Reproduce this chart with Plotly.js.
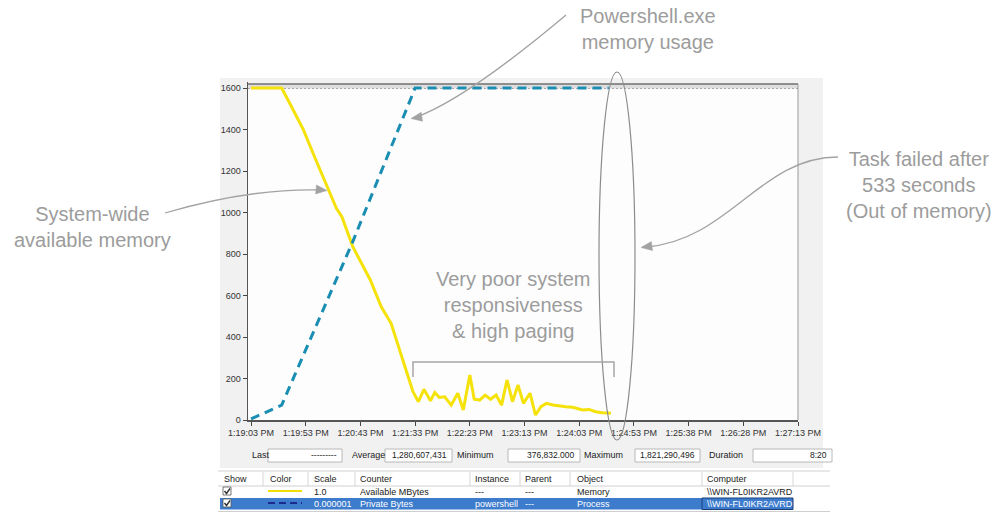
<!DOCTYPE html>
<html><head><meta charset="utf-8">
<script src="https://cdn.plot.ly/plotly-3.0.1.min.js"></script>
<style>html,body{margin:0;padding:0;background:#fff}#chart{width:1001px;height:514px}</style>
</head><body><div id="chart"></div>
<script>
// ---- data ----
const tickSeconds = [0, 50, 100, 150, 200, 250, 300, 350, 400, 450, 500];
const tickLabels = ['1:19:03 PM','1:19:53 PM','1:20:43 PM','1:21:33 PM','1:22:23 PM','1:23:13 PM','1:24:03 PM','1:24:53 PM','1:25:38 PM','1:26:28 PM','1:27:13 PM'];
const yTicks = [0, 200, 400, 600, 800, 1000, 1200, 1400, 1600];

const availSeconds = [0, 28, 37, 48, 58, 66, 72, 78, 83, 93, 109, 119, 128, 137, 142, 148, 153, 158, 164, 168, 172, 177, 183, 189, 194, 200, 204, 209, 214, 219, 224, 229, 234, 239, 244, 249, 255, 260, 265, 270, 276, 282, 288, 294, 303, 309, 315, 321, 329];
const availMB = [1600, 1600, 1510, 1397, 1269, 1172, 1092, 1020, 980, 835, 675, 546, 466, 321, 241, 136, 88, 148, 93, 132, 109, 112, 72, 129, 48, 217, 100, 96, 120, 100, 120, 72, 193, 88, 169, 80, 129, 24, 64, 80, 72, 67, 64, 61, 48, 51, 40, 35, 32];

const privSeconds = [0, 28, 93, 150, 327];
const privMB = [5, 72, 860, 1600, 1600];

const statLabels = ['Last', 'Average', 'Minimum', 'Maximum', 'Duration'];
const statValues = ['---------', '1,280,607,431', '376,832.000', '1,821,290,496', '8:20'];

const tableHeaders = ['Show', 'Color', 'Scale', 'Counter', 'Instance', 'Parent', 'Object', 'Computer'];
const row1 = ['1.0', 'Available MBytes', '---', '---', 'Memory', '\\\\WIN-FL0IKR2AVRD'];
const row2 = ['0.000001', 'Private Bytes', 'powershell', '---', 'Process', '\\\\WIN-FL0IKR2AVRD'];

const noteMemory = 'System-wide<br>available memory';
const notePowershell = 'Powershell.exe<br>memory usage';
const noteFailed = 'Task failed after<br>533 seconds<br>(Out of memory)';
const notePaging = 'Very poor system<br>responsiveness<br>&amp; high paging';

// ---- geometry helpers (pixel -> paper) ----
const L = 248, R = 798, T = 82, B = 420;
const px = x => (x - L) / (R - L);
const py = y => (B - y) / (B - T);
const P = (x, y) => px(x) + ',' + py(y);

const shapes = [];
const annotations = [];

function rect(x0, y0, x1, y1, fill, line, layer, lw) {
  shapes.push({type: 'rect', xref: 'paper', yref: 'paper', x0: px(x0), x1: px(x1), y0: py(y1), y1: py(y0),
    fillcolor: fill, line: {color: line || 'rgba(0,0,0,0)', width: lw || (line ? 1 : 0)}, layer: layer || 'below'});
}
function line(x0, y0, x1, y1, color, w, layer, dash) {
  shapes.push({type: 'line', xref: 'paper', yref: 'paper', x0: px(x0), x1: px(x1), y0: py(y0), y1: py(y1),
    line: {color: color, width: w, dash: dash || 'solid'}, layer: layer || 'below'});
}
function path(d, color, w, fill, layer) {
  shapes.push({type: 'path', xref: 'paper', yref: 'paper', path: d, line: {color: color, width: w},
    fillcolor: fill || 'rgba(0,0,0,0)', layer: layer || 'above'});
}
function arrowHead(tx, ty, fx, fy, color) {
  const dx = tx - fx, dy = ty - fy, len = Math.hypot(dx, dy);
  const ux = dx / len, uy = dy / len, nx = -uy, ny = ux;
  const bx = tx - 11 * ux, by = ty - 11 * uy;
  path('M' + P(tx, ty) + ' L' + P(bx + 4.5 * nx, by + 4.5 * ny) + ' L' + P(bx - 4.5 * nx, by - 4.5 * ny) + ' Z', color, 0.5, color);
}
function text(x, y, t, opts) {
  opts = opts || {};
  annotations.push({xref: 'paper', yref: 'paper', x: px(x), y: py(y), text: t, showarrow: false,
    xanchor: opts.xa || 'left', yanchor: 'middle', align: opts.align || 'left',
    font: {family: opts.family || 'Liberation Sans, Arial, sans-serif', size: opts.size || 9, color: opts.color || '#222'}});
}

// panel backgrounds
rect(220, 78, 823, 468, '#f1f1f2');
rect(248, 84, 798, 420, '#fdfdfd');
// top max band (hatched look)
rect(248, 84, 798, 88.5, '#dedede');
line(248, 84, 798, 84, '#6f6f6f', 1.5);
line(248, 88.5, 798, 88.5, '#a9a9a9', 1, 'below', '2px,2px');
line(798, 84, 798, 420, '#9a9a9a', 1);

// stats row
const statLabelX = [250, 350, 455, 582, 707];
const statBox = [[268, 342], [385, 452], [508, 580], [635, 700], [753, 832]];
statLabels.forEach((s, i) => {
  text(statLabelX[i], 455, s, {size: 9});
  rect(statBox[i][0], 449, statBox[i][1], 462, '#ffffff', '#b8b8b8');
  text(statBox[i][1] - 3, 455, statValues[i], {size: 8.5, xa: 'right'});
});

// table
rect(218, 469, 830, 512, '#ffffff', null);
line(218, 471, 830, 471, '#d0d0d0', 1);
line(218, 486, 830, 486, '#d0d0d0', 1);
const colX = [222, 268, 312, 358, 473, 523, 575, 705];
const sepX = [263, 308, 355, 470, 520, 570, 702, 793];
sepX.forEach(x => line(x, 472, x, 486, '#d6d6d6', 1));
tableHeaders.forEach((h, i) => text(colX[i], 479, h, {size: 9}));
// selected row highlight
rect(220, 498, 793, 509.5, '#3d7ccd');
rect(702, 498, 793, 509.5, 'rgba(0,0,0,0)', '#1d3f78', 'below', 1);
line(218, 511.5, 830, 511.5, '#cfcfcf', 1);
// checkboxes
[[491, '#ffffff', '#333'], [503, '#ffffff', '#333']].forEach(c => {
  rect(223, c[0] - 4, 231, c[0] + 4, c[1], '#555', 'above', 0.8);
  path('M' + P(224.5, c[0]) + ' L' + P(226.5, c[0] + 2.5) + ' L' + P(230, c[0] - 2.5), c[2], 1.4);
});
// colour swatches
line(268, 491, 302, 491, '#f2de00', 2, 'above');
line(268, 503, 302, 503, '#1c2a8c', 2, 'above', '7px,4px');
row1.forEach((t, i) => text(colX[i + 2], 492, t, {size: 9}));
row2.forEach((t, i) => text(colX[i + 2], 503.5, t, {size: 9, color: '#ffffff'}));

// annotation texts
const noteFont = {family: 'Liberation Sans, Arial, sans-serif', size: 20, color: '#9c9c9c'};
function note(x, y, t) {
  annotations.push({xref: 'paper', yref: 'paper', x: px(x), y: py(y), text: t, showarrow: false,
    xanchor: 'center', yanchor: 'middle', align: 'center', font: noteFont});
}
note(648, 29, notePowershell);
note(92, 227, noteMemory);
note(919, 185, noteFailed);
note(513, 305, notePaging);

// curved arrows
const ac = '#a2a2a2';
path('M' + P(566, 15) + ' Q' + P(465, 100) + ' ' + P(414, 118), ac, 1.3);
arrowHead(411, 118.5, 440, 114, ac);
path('M' + P(165, 213) + ' Q' + P(250, 188) + ' ' + P(322, 190), ac, 1.3);
arrowHead(327, 190.5, 300, 188, ac);
path('M' + P(838, 157) + ' C' + P(760, 157) + ' ' + P(730, 240) + ' ' + P(646, 247), ac, 1.3);
arrowHead(641, 247.5, 660, 245, ac);
// ellipse around failure point
shapes.push({type: 'circle', xref: 'paper', yref: 'paper', x0: px(599), x1: px(635), y0: py(440), y1: py(72),
  line: {color: '#8c8c8c', width: 1.2}, layer: 'above'});
// bracket over paging region
path('M' + P(413, 377) + ' L' + P(413, 362) + ' L' + P(614, 362) + ' L' + P(614, 377), '#a5a5a5', 1.5);

const traces = [
  {x: availSeconds, y: availMB, type: 'scatter', mode: 'lines', name: 'Available MBytes',
   line: {color: '#f5e20a', width: 3}, hoverinfo: 'skip'},
  {x: privSeconds, y: privMB, type: 'scatter', mode: 'lines', name: 'Private Bytes',
   line: {color: '#1a8db2', width: 3, dash: '9px,6px'}, hoverinfo: 'skip'}
];

const tickFont = {family: 'Liberation Sans Narrow, Liberation Sans, Arial, sans-serif', size: 9, color: '#333'};
const layout = {
  width: 1001, height: 514,
  margin: {l: L, r: 1001 - R, t: T, b: 514 - B, pad: 0},
  paper_bgcolor: '#ffffff', plot_bgcolor: 'rgba(0,0,0,0)',
  showlegend: false,
  xaxis: {range: [-2.8, 500], tickvals: tickSeconds, ticktext: tickLabels, ticks: 'outside', ticklen: 4,
    tickcolor: '#444', showline: true, linecolor: '#555', linewidth: 1.5, showgrid: false, zeroline: false,
    tickfont: tickFont, fixedrange: true},
  yaxis: {range: [0, 1629], tickvals: yTicks, ticks: 'outside', ticklen: 4, tickcolor: '#444',
    showline: true, linecolor: '#555', linewidth: 1.5, showgrid: false, zeroline: false,
    tickfont: tickFont, fixedrange: true},
  shapes: shapes,
  annotations: annotations
};
Plotly.newPlot('chart', traces, layout, {displayModeBar: false, staticPlot: true});
</script>
</body></html>
